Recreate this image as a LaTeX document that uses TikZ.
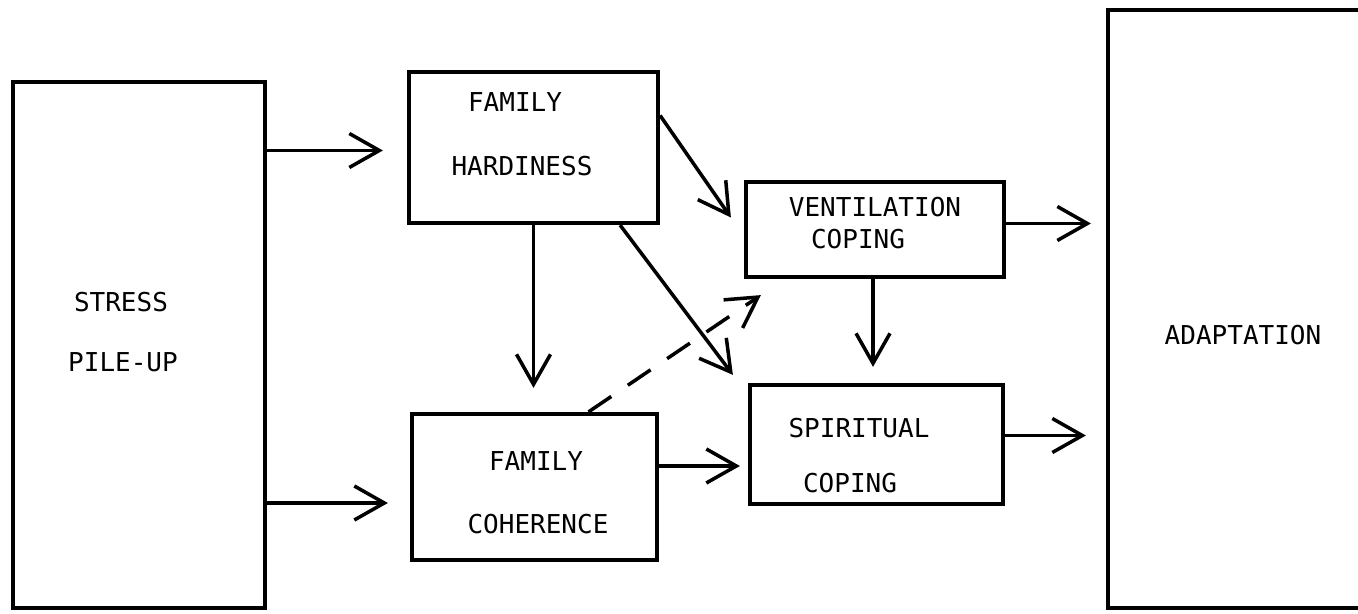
\documentclass[tikz,border=0pt]{standalone}
\usepackage{fontspec}
\setmonofont{DejaVu Sans Mono}
\usetikzlibrary{arrows.meta,fit,calc}
\begin{document}
\begin{tikzpicture}[x=0.02cm,y=-0.02cm,
  box/.style={draw, line width=2.4pt, inner sep=0pt},
  lbl/.style={font=\ttfamily\fontsize{14.8}{16}\selectfont, inner sep=0pt},
  arr/.style={line width=2pt, -{Straight Barb[length=0.6cm,width=0.68cm,line width=2pt]}},
  dsh/.style={arr, dash pattern=on 0.55cm off 0.4cm}]
\useasboundingbox (0,0) rectangle (1358,614);
% boxes
\node[box, fit={(13,82) (265,608)}] (stress) {};
\node[box, fit={(409,72) (658,223)}] (hard) {};
\node[box, fit={(412,414) (657,560)}] (coh) {};
\node[box, fit={(746,182) (1004,277)}] (vent) {};
\node[box, fit={(750,385) (1003,504)}] (spir) {};
\node[box, fit={(1108,10) (1380,608)}] (adapt) {};
% labels
\node[lbl] (t1) at (121,302) {STRESS};
\node[lbl] (t2) at (123,362) {PILE-UP};
\node[lbl] (t3) at (515,102) {FAMILY};
\node[lbl] (t4) at (522,166) {HARDINESS};
\node[lbl] (t5) at (536,461) {FAMILY};
\node[lbl] (t6) at (538,524) {COHERENCE};
\node[lbl] (t7) at (875,207) {VENTILATION};
\node[lbl] (t8) at (858,239) {COPING};
\node[lbl] (t9) at (859,428) {SPIRITUAL};
\node[lbl] (t10) at (850,483) {COPING};
\node[lbl] (t11) at (1243,335) {ADAPTATION};
% connectors
\coordinate (s1) at ($(stress.east |- hard.west)+(0,3)$);
\draw[arr] (s1) -- ($(hard.west |- s1)+(-24,0)$);
\coordinate (s2) at ($(stress.east |- coh.west)+(0,16)$);
\draw[arr] (s2) -- ($(coh.west |- s2)+(-22,0)$);
\draw[arr] ($(hard.east)+(0,-32)$) -- ($(vent.west)+(-13,-12)$);
\draw[arr] (hard.south) -- ($(hard.south |- coh.north)+(0,-24)$);
\draw[arr] ($(hard.south east)+(-40,0)$) -- ($(spir.north west)+(-15,-8)$);
\draw[dsh] ($(coh.north)+(54,0)$) -- ($(vent.south west)+(17,16)$);
\coordinate (c1) at ($(coh.east)+(0,-21)$);
\draw[arr] (c1) -- ($(spir.west |- c1)+(-8,0)$);
\coordinate (v1) at ($(vent.east)+(0,-6)$);
\draw[arr] (v1) -- ($(adapt.west |- v1)+(-15,0)$);
\draw[arr] ($(vent.south)+(-2,0)$) -- ($(vent.south |- spir.north)+(-2,-16)$);
\coordinate (p1) at ($(spir.east)+(0,-9)$);
\draw[arr] (p1) -- ($(adapt.west |- p1)+(-20,0)$);
\end{tikzpicture}
\end{document}
